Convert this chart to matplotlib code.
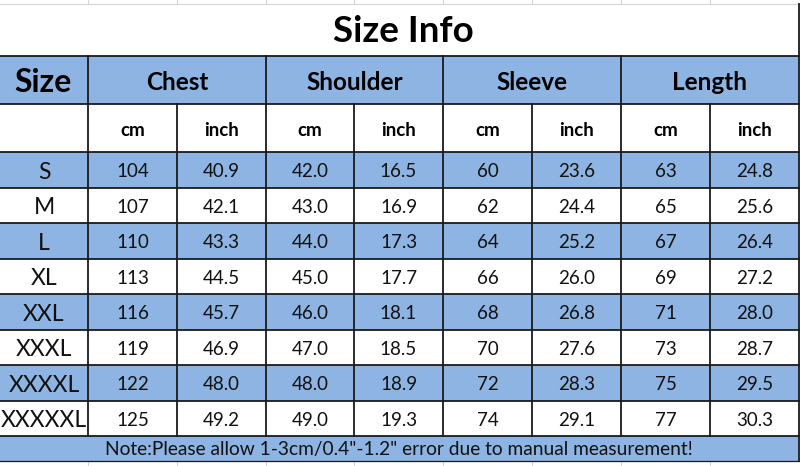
import matplotlib.pyplot as plt
from matplotlib.patches import Rectangle

# table content
title = "Size Info"
groups = ["Chest", "Shoulder", "Sleeve", "Length"]
units = ["cm", "inch"]
sizes = ["S", "M", "L", "XL", "XXL", "XXXL", "XXXXL", "XXXXXL"]
chest_cm = ["104", "107", "110", "113", "116", "119", "122", "125"]
chest_in = ["40.9", "42.1", "43.3", "44.5", "45.7", "46.9", "48.0", "49.2"]
shoulder_cm = ["42.0", "43.0", "44.0", "45.0", "46.0", "47.0", "48.0", "49.0"]
shoulder_in = ["16.5", "16.9", "17.3", "17.7", "18.1", "18.5", "18.9", "19.3"]
sleeve_cm = ["60", "62", "64", "66", "68", "70", "72", "74"]
sleeve_in = ["23.6", "24.4", "25.2", "26.0", "26.8", "27.6", "28.3", "29.1"]
length_cm = ["63", "65", "67", "69", "71", "73", "75", "77"]
length_in = ["24.8", "25.6", "26.4", "27.2", "28.0", "28.7", "29.5", "30.3"]
note = "Note:Please allow 1-3cm/0.4\"-1.2\" error due to manual measurement!"

columns = [chest_cm, chest_in, shoulder_cm, shoulder_in,
           sleeve_cm, sleeve_in, length_cm, length_in]

# layout in pixels
col_x = [0, 88, 177, 266, 354, 443, 532, 621, 710, 799]
y_title = (4, 56)
y_head = (56, 104)
y_unit = (104, 152)
row_h = 35.5
y_data0 = 152
y_note = (436, 461)

blue = "#8db4e2"
line_c = "#1a1a1a"
grid_c = "#d4d4d4"
txt_c = "#111111"
font = ["Lato", "DejaVu Sans"]

fig = plt.figure(figsize=(8, 4.66), dpi=100)
ax = fig.add_axes([0, 0, 1, 1])
ax.set_xlim(0, 800)
ax.set_ylim(466, 0)
ax.axis("off")

# faint spreadsheet gridlines at top and bottom
for x in col_x[1:-1]:
    ax.plot([x, x], [0, y_title[0]], color=grid_c, lw=0.8)
    ax.plot([x, x], [y_note[1], 466], color=grid_c, lw=0.8)
ax.plot([0, 800], [y_title[0], y_title[0]], color=grid_c, lw=0.8)

# title
ax.text(403, (y_title[0] + y_title[1]) / 2 + 2, title, ha="center", va="center",
        fontsize=26.5, fontweight="bold", family=font, color="black")

# header row
ax.add_patch(Rectangle((0, y_head[0]), 799, y_head[1] - y_head[0], color=blue, lw=0))
ax.text(col_x[0] + (col_x[1] - col_x[0]) / 2 - 1, (y_head[0] + y_head[1]) / 2 + 2.5, "Size",
        ha="center", va="center", fontsize=23, fontweight="bold", family=font, color="black")
for i, g in enumerate(groups):
    x0 = col_x[1 + 2 * i]
    x1 = col_x[3 + 2 * i]
    ax.text((x0 + x1) / 2, (y_head[0] + y_head[1]) / 2 + 2.5, g, ha="center", va="center",
            fontsize=17.5, fontweight="bold", family=font, color="black")

# unit row
for j in range(8):
    x0, x1 = col_x[j + 1], col_x[j + 2]
    ax.text((x0 + x1) / 2, (y_unit[0] + y_unit[1]) / 2 + 3, units[j % 2], ha="center",
            va="center", fontsize=13.5, fontweight="bold", family=font, color="black")

# data rows
for r, s in enumerate(sizes):
    top = y_data0 + r * row_h
    mid = top + row_h / 2
    if r % 2 == 0:
        ax.add_patch(Rectangle((0, top), 799, row_h, color=blue, lw=0))
    ax.text((col_x[0] + col_x[1]) / 2, mid + 2.5, s, ha="center", va="center",
            fontsize=16.5, family=font, color=txt_c)
    for j, col in enumerate(columns):
        x0, x1 = col_x[j + 1], col_x[j + 2]
        ax.text((x0 + x1) / 2, mid + 2, col[r], ha="center", va="center",
                fontsize=13.5, family=font, color=txt_c)

# note row
ax.add_patch(Rectangle((0, y_note[0]), 799, y_note[1] - y_note[0], color=blue, lw=0))
ax.text(399, (y_note[0] + y_note[1]) / 2 + 1.5, note, ha="center", va="center",
        fontsize=13.8, family=font, color=txt_c)

# borders
lw = 1.3
ax.plot([0, 799], [y_head[0], y_head[0]], color=line_c, lw=lw)
ax.plot([0, 799], [y_head[1], y_head[1]], color=line_c, lw=lw)
ax.plot([0, 799], [y_unit[1], y_unit[1]], color=line_c, lw=lw)
for r in range(1, len(sizes) + 1):
    yy = y_data0 + r * row_h
    ax.plot([0, 799], [yy, yy], color=line_c, lw=lw)
ax.plot([0, 799], [y_note[1], y_note[1]], color=line_c, lw=lw * 0.7)
ax.plot([799, 799], [y_title[0], y_note[1]], color=line_c, lw=lw)
for k, x in enumerate(col_x[1:-1]):
    if k % 2 == 0:
        ax.plot([x, x], [y_head[0], y_note[0]], color=line_c, lw=lw)
    else:
        ax.plot([x, x], [y_head[1], y_note[0]], color=line_c, lw=lw)

fig.savefig("out.png", dpi=100)
